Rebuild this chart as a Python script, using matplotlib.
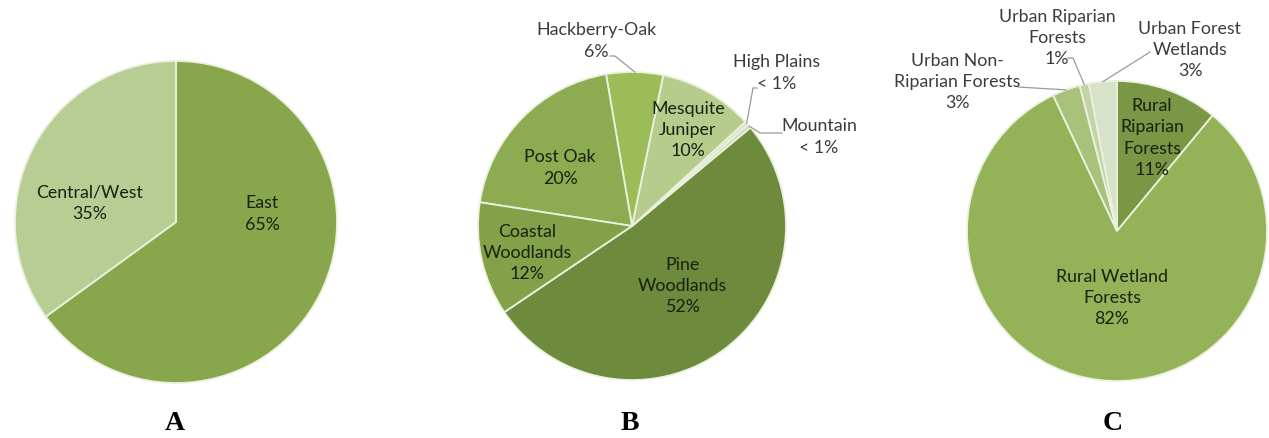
import numpy as np
import matplotlib
matplotlib.use("Agg")
import matplotlib.pyplot as plt

# Chart data
A_NAMES = ["East", "Central/West"]
A_VALUES = [65, 35]
A_PCT = ["65%", "35%"]

B_NAMES = ["Pine\nWoodlands", "Mountain", "High Plains", "Mesquite\nJuniper",
           "Hackberry-Oak", "Post Oak", "Coastal\nWoodlands"]
B_VALUES = [52, 0.4, 0.4, 10, 6, 20, 12]
B_PCT = ["52%", "< 1%", "< 1%", "10%", "6%", "20%", "12%"]

C_NAMES = ["Rural\nRiparian\nForests", "Rural Wetland\nForests", "Urban Non-\nRiparian Forests",
           "Urban Riparian\nForests", "Urban Forest\nWetlands"]
C_VALUES = [11, 82, 3, 1, 3]
C_PCT = ["11%", "82%", "3%", "1%", "3%"]

PANELS = ["A", "B", "C"]

# Colours
A_COLORS = ["#88a64b", "#b7cd93"]
B_COLORS = ["#6d8a3d", "#cddbb6", "#d9e4c6", "#b6cc8d", "#9cbc58", "#8dab51", "#83a149"]
C_COLORS = ["#7a9745", "#94b257", "#a9c27b", "#c3d5a5", "#d8e2c8"]

W, H = 1269, 439
EDGE = "#eaf1de"
INNER = "#1a2010"
OUTER = "#3c3c3c"
FONT = "Lato"


def Y(y):
    # image pixel row -> axes y
    return H - y


fig = plt.figure(figsize=(W / 100, H / 100), dpi=100)
ax = fig.add_axes([0, 0, 1, 1])

wp = dict(edgecolor=EDGE, linewidth=1.3)

wa, _ = ax.pie(A_VALUES, colors=A_COLORS, startangle=90, counterclock=False,
               center=(176, Y(223)), radius=161, wedgeprops=wp)
wb, _ = ax.pie(B_VALUES, colors=B_COLORS, startangle=214, counterclock=True,
               center=(632, Y(227)), radius=154, wedgeprops=wp)
wc, _ = ax.pie(C_VALUES, colors=C_COLORS, startangle=90, counterclock=False,
               center=(1117, Y(232)), radius=150, wedgeprops=wp)

# label positions (image pixels), inside flag
A_POS = [(262, 214, True), (90, 203, True)]
B_POS = [(682, 286, True), (819, 137, False), (777, 73, False), (688, 130, True),
         (596, 41, False), (560, 168, True), (527, 253, True)]
C_POS = [(1152, 138, True), (1112, 298, True), (957, 82, False),
         (1057, 38, False), (1190, 50, False)]


def put_labels(names, pcts, pos):
    for name, pct, (x, y, inside) in zip(names, pcts, pos):
        ax.text(x, Y(y), name + "\n" + pct, ha="center", va="center",
                fontsize=12.8, family=FONT, linespacing=1.42,
                color=INNER if inside else OUTER)


put_labels(A_NAMES, A_PCT, A_POS)
put_labels(B_NAMES, B_PCT, B_POS)
put_labels(C_NAMES, C_PCT, C_POS)


def leader(wedge, pts):
    # line from a label to the outer middle of a wedge
    ang = np.deg2rad((wedge.theta1 + wedge.theta2) / 2)
    cx, cy = wedge.center
    ex = cx + wedge.r * np.cos(ang)
    ey = cy + wedge.r * np.sin(ang)
    xs = [p[0] for p in pts] + [ex]
    ys = [Y(p[1]) for p in pts] + [ey]
    ax.plot(xs, ys, color="#9a9a9a", linewidth=0.9)


leader(wb[4], [(610, 57), (615, 57)])
leader(wb[2], [(757, 89), (753, 89)])
leader(wb[1], [(782, 134), (760, 134)])
leader(wc[2], [(1018, 88)])
leader(wc[3], [(1068, 59), (1073, 59)])
leader(wc[4], [(1150, 53)])

for lab, x in zip(PANELS, [175, 630, 1113]):
    ax.text(x, Y(424), lab, ha="center", va="center", fontsize=20,
            fontweight="bold", family="Liberation Serif", color="black")

ax.set_xlim(0, W)
ax.set_ylim(0, H)
ax.axis("off")

fig.savefig("out.png", dpi=100)
